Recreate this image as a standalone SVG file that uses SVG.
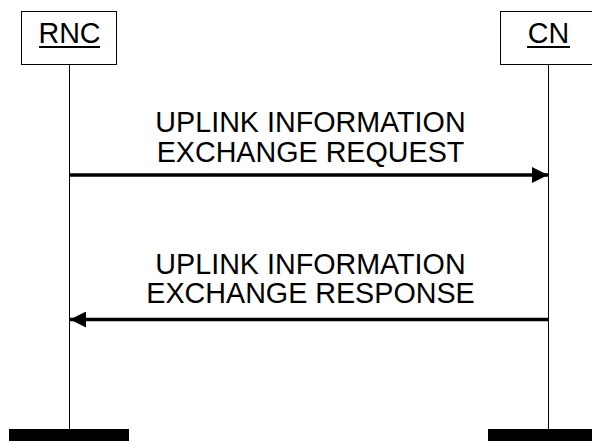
<svg xmlns="http://www.w3.org/2000/svg" width="592" height="441" viewBox="0 0 592 441">
<style>
.box{fill:#fff;stroke:#000;stroke-width:1}
.life{stroke:#000;stroke-width:1}
.t{font-family:"Liberation Sans",Arial,sans-serif;font-size:28.7px;fill:#000;text-anchor:middle}
.msg{stroke:#000;stroke-width:3.5;fill:none}
.bar{fill:#000}
</style>
<defs>
<marker id="ah" markerWidth="16" markerHeight="16" refX="16" refY="8" orient="auto" markerUnits="userSpaceOnUse">
<path d="M0,0 L16,8 L0,16 Z" fill="#000"/>
</marker>
</defs>
<g id="RNC">
<line class="life" x1="69.5" y1="65" x2="69.5" y2="430"/>
<rect class="box" x="21.5" y="11.5" width="95" height="53"/>
<text class="t" x="69.5" y="42.5">RNC</text>
<rect x="39" y="46" width="61" height="2" fill="#000"/>
<rect class="bar" x="9" y="429" width="120" height="12"/>
</g>
<g id="CN">
<line class="life" x1="548.5" y1="65" x2="548.5" y2="430"/>
<rect class="box" x="500.5" y="11.5" width="100" height="53"/>
<text class="t" x="548.5" y="42.5">CN</text>
<rect x="527" y="46" width="43" height="2" fill="#000"/>
<rect class="bar" x="488" y="429" width="110" height="12"/>
</g>
<g id="connectors">
<line class="msg" x1="70" y1="175" x2="548" y2="175" marker-end="url(#ah)"/>
<line class="msg" x1="548" y1="319.5" x2="70" y2="319.5" marker-end="url(#ah)"/>
</g>
<g id="labels">
<text class="t" x="310.5" y="132">UPLINK INFORMATION</text>
<text class="t" x="310.5" y="161.5">EXCHANGE REQUEST</text>
<text class="t" x="310.5" y="274">UPLINK INFORMATION</text>
<text class="t" x="310.5" y="303">EXCHANGE RESPONSE</text>
</g>
</svg>
